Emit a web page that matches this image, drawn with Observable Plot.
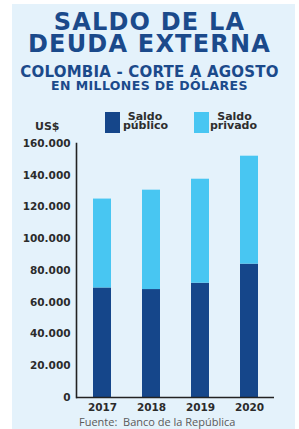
<!DOCTYPE html>
<html><head><meta charset="utf-8">
<script src="https://cdn.jsdelivr.net/npm/d3@7"></script>
<script src="https://cdn.jsdelivr.net/npm/@observablehq/plot@0.6"></script>
<style>
html,body{margin:0;padding:0;background:#fff;}
#wrap{position:relative;width:299px;height:429px;overflow:hidden;font-family:"DejaVu Sans",sans-serif;}
#panel{position:absolute;left:12px;top:4px;width:283px;height:425px;background:#e4f2fb;}
.t{position:absolute;left:0;width:299px;text-align:center;color:#1b4a8b;font-weight:700;white-space:nowrap;}
.lg{position:absolute;width:60px;text-align:center;font-weight:700;font-size:11px;line-height:9.5px;height:9.5px;color:#2e2e2e;white-space:nowrap;}
.sw{position:absolute;width:15px;height:21px;top:111.5px;}
#chart{position:absolute;left:0;top:136px;}
#foot{position:absolute;left:79px;top:416px;font-family:"Open Sans",sans-serif;font-size:11px;line-height:11px;color:#5a5a5a;white-space:pre;}
</style></head>
<body>
<div id="wrap">
<div id="panel"></div>
<div class="t" style="top:10.5px;font-size:24px;line-height:22.5px;letter-spacing:1.2px;">SALDO DE LA<br>DEUDA EXTERNA</div>
<div class="t" style="top:66px;font-size:15px;line-height:13.5px;letter-spacing:0.2px;">COLOMBIA - CORTE A AGOSTO</div>
<div class="t" style="top:79.5px;font-size:12.5px;line-height:11px;letter-spacing:0.4px;">EN MILLONES DE DÓLARES</div>
<div class="sw" style="left:105px;background:#15468a;"></div>
<div class="lg" style="left:115px;top:111.5px;">Saldo</div>
<div class="lg" style="left:115.5px;top:121px;">público</div>
<div class="sw" style="left:194px;background:#48c6f2;"></div>
<div class="lg" style="left:204.5px;top:111.5px;">Saldo</div>
<div class="lg" style="left:203.5px;top:121px;">privado</div>
<div class="lg" style="left:35px;top:121.5px;width:auto;text-align:left;">US$</div>
<div id="chart"></div>
<div id="foot">Fuente:  Banco de la República</div>
</div>
<script>
const years = ["2017", "2018", "2019", "2020"];
const publico = [69000, 68000, 72000, 84000];
const privado = [56000, 62600, 65500, 68000];
const series = ["Saldo público", "Saldo privado"];
const colors = ["#15468a", "#48c6f2"];
const yTicks = [0, 20000, 40000, 60000, 80000, 100000, 120000, 140000, 160000];

const data = [];
years.forEach((y, i) => {
  data.push({year: y, serie: series[0], value: publico[i]});
  data.push({year: y, serie: series[1], value: privado[i]});
});
const fmt = d => d3.format(",")(d).replace(/,/g, ".");

const chart = Plot.plot({
  width: 299, height: 280,
  marginLeft: 76, marginRight: 25, marginTop: 7, marginBottom: 19,
  style: {background: "transparent", fontFamily: "DejaVu Sans, sans-serif"},
  x: {domain: years, paddingInner: 0.64, paddingOuter: 0.32, label: null},
  y: {domain: [0, 160000], label: null},
  color: {domain: series, range: colors},
  marks: [
    Plot.barY(data, Plot.stackY({x: "year", y: "value", fill: "serie", order: series})),
    Plot.axisY({ticks: yTicks, tickSize: 0, tickPadding: 6, tickFormat: fmt, fontSize: 10.5, fontWeight: 700, fill: "#2b2b2b", label: null}),
    Plot.axisX({tickSize: 0, tickPadding: 6, fontSize: 10.5, fontWeight: 700, fill: "#2b2b2b", label: null}),
    Plot.frame({anchor: "left", stroke: "#222", strokeWidth: 1.6}),
    Plot.ruleY([0], {stroke: "#222", strokeWidth: 1.6})
  ]
});
document.getElementById("chart").appendChild(chart);
</script>
</body></html>
